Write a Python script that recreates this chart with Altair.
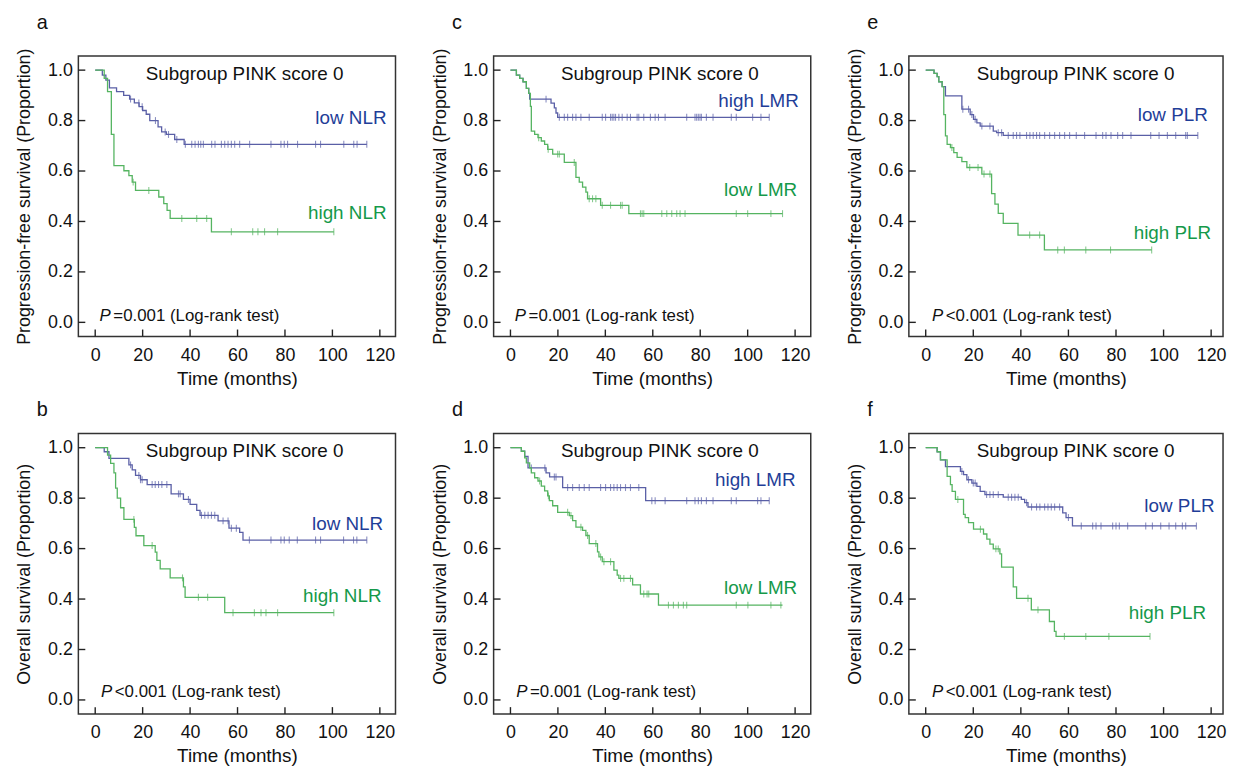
import bisect
import altair as alt
import pandas as pd

# ---------------- data ----------------
X_TICKS = [0, 20, 40, 60, 80, 100, 120]
Y_TICKS = [0.0, 0.2, 0.4, 0.6, 0.8, 1.0]

# Panel a : PFS, NLR
a_low_t = [3.0, 4.5, 6.0, 9.0, 12.0, 14.5, 16.5, 18.5, 20.0, 21.5, 23.0, 26.5, 28.0, 30.0, 33.5, 37.5]
a_low_s = [0.98, 0.96, 0.93, 0.915, 0.90, 0.885, 0.87, 0.855, 0.84, 0.825, 0.80, 0.775, 0.755, 0.745, 0.725, 0.706]
a_low_end = 114.5
a_low_c = [14.9, 18.4, 19.8, 25.4, 29.5, 30.9, 34.4, 38.0, 40.7, 42.1, 43.5, 44.5, 45.6, 49.1, 50.5, 53.2, 54.6,
           56.0, 57.4, 58.8, 60.9, 65.1, 74.1, 78.3, 79.7, 81.1, 85.3, 92.9, 95.0, 104.8, 109.0, 110.4, 114.5]
a_high_t = [3.8, 5.2, 6.8, 7.9, 12.1, 14.2, 15.6, 17.0, 26.8, 28.9, 30.3, 31.6, 49.0]
a_high_s = [0.967, 0.915, 0.745, 0.621, 0.601, 0.582, 0.556, 0.523, 0.497, 0.471, 0.444, 0.412, 0.359]
a_high_end = 100.6
a_high_c = [16.0, 22.6, 36.5, 42.8, 47.0, 57.4, 66.4, 68.6, 71.4, 76.9, 100.6]

# Panel b : OS, NLR
b_low_t = [3.8, 5.8, 14.2, 15.6, 17.0, 19.1, 21.9, 32.0, 37.2, 40.0, 42.8, 44.2, 51.8, 56.4, 60.9, 62.3]
b_low_s = [0.984, 0.958, 0.932, 0.912, 0.89, 0.873, 0.854, 0.817, 0.795, 0.775, 0.752, 0.732, 0.71, 0.681, 0.664, 0.634]
b_low_end = 114.5
b_low_c = [14.9, 18.4, 19.1, 19.8, 24.0, 25.3, 26.7, 28.1, 30.2, 35.1, 35.8, 39.3, 44.8, 46.2, 47.6, 49.0, 50.4,
           53.9, 56.0, 57.4, 59.5, 65.0, 74.1, 78.3, 79.7, 81.8, 85.2, 92.9, 95.0, 104.7, 108.9, 110.3, 114.5]
b_high_t = [5.2, 6.5, 7.9, 8.6, 9.3, 10.7, 12.1, 16.5, 17.2, 20.5, 25.3, 26.0, 27.4, 31.6, 37.2, 37.9, 54.6]
b_high_s = [0.971, 0.938, 0.90, 0.84, 0.80, 0.762, 0.716, 0.684, 0.651, 0.612, 0.586, 0.553, 0.52, 0.484, 0.448, 0.407, 0.346]
b_high_end = 100.6
b_high_c = [16.3, 24.0, 36.8, 43.5, 47.4, 58.1, 67.1, 69.9, 72.0, 76.9, 100.6]

# Panel c : PFS, LMR
c_high_t = [2.5, 3.9, 5.3, 6.7, 7.7, 8.1, 17.1, 18.5, 19.2, 19.9]
c_high_s = [0.98, 0.967, 0.954, 0.928, 0.908, 0.885, 0.869, 0.85, 0.83, 0.813]
c_high_end = 109.1
c_high_c = [15.0, 20.6, 22.7, 24.1, 26.2, 27.6, 29.7, 33.2, 38.7, 40.1, 42.2, 42.9, 43.6, 44.3, 45.7, 47.1, 49.2,
            50.6, 53.4, 54.1, 56.2, 59.0, 61.0, 62.4, 65.2, 74.3, 77.8, 78.5, 79.2, 79.9, 80.5, 82.6, 85.4, 93.1,
            95.2, 102.1, 105.6, 109.1]
c_low_t = [2.5, 3.9, 5.3, 6.7, 7.7, 8.4, 8.8, 10.2, 11.6, 13.0, 14.4, 15.7, 17.8, 22.7, 27.6, 29.0, 30.4, 31.8,
           32.5, 38.0, 49.9]
c_low_s = [0.98, 0.967, 0.954, 0.928, 0.908, 0.856, 0.758, 0.745, 0.732, 0.719, 0.706, 0.686, 0.667, 0.634, 0.575,
           0.556, 0.536, 0.516, 0.49, 0.464, 0.431]
c_low_end = 114.7
c_low_c = [11.9, 15.9, 19.9, 20.6, 26.9, 33.2, 34.6, 36.0, 38.7, 42.2, 46.4, 47.1, 54.8, 55.5, 56.2, 63.8, 65.9,
           68.0, 70.1, 71.5, 73.6, 95.2, 100.0, 109.8, 114.7]

# Panel d : OS, LMR
d_high_t = [4.6, 6.0, 7.4, 15.0, 16.5, 22.0, 57.0]
d_high_s = [0.986, 0.966, 0.92, 0.90, 0.884, 0.842, 0.79]
d_high_end = 109.1
d_high_c = [8.8, 14.5, 18.5, 19.2, 24.1, 26.2, 29.0, 31.1, 33.2, 38.0, 40.1, 42.2, 43.6, 45.0, 46.4, 48.5, 50.6,
            54.1, 59.6, 61.0, 65.2, 74.3, 77.8, 79.2, 80.5, 82.6, 85.4, 93.1, 95.2, 104.2, 105.6, 109.1]
d_low_t = [4.6, 6.0, 6.7, 8.1, 8.8, 10.2, 11.6, 13.0, 14.4, 15.7, 16.4, 17.8, 19.9, 24.8, 26.2, 27.6, 30.4, 31.8,
           33.2, 36.7, 37.3, 38.7, 43.6, 45.0, 45.7, 51.5, 54.8, 62.4]
d_low_s = [0.986, 0.96, 0.94, 0.92, 0.90, 0.881, 0.868, 0.848, 0.829, 0.809, 0.79, 0.77, 0.744, 0.731, 0.711,
           0.685, 0.672, 0.652, 0.62, 0.587, 0.567, 0.548, 0.515, 0.495, 0.482, 0.456, 0.42, 0.376]
d_low_end = 114.7
d_low_c = [12.3, 16.0, 24.1, 25.5, 29.7, 32.5, 36.0, 38.0, 39.4, 42.2, 46.4, 47.8, 50.6, 56.2, 57.6, 58.3, 66.6,
           68.7, 70.8, 72.9, 74.3, 95.2, 100.1, 109.8, 114.0]

# Panel e : PFS, PLR
e_low_t = [3.5, 4.8, 5.5, 6.9, 8.3, 15.2, 18.7, 20.1, 21.5, 22.9, 28.4, 29.8, 32.6]
e_low_s = [0.987, 0.974, 0.954, 0.935, 0.898, 0.845, 0.824, 0.805, 0.791, 0.778, 0.758, 0.752, 0.741]
e_low_end = 114.4
e_low_c = [15.6, 18.0, 19.4, 20.8, 23.6, 27.0, 30.5, 31.9, 34.7, 36.8, 38.2, 39.6, 42.4, 43.8, 45.2, 46.6, 47.9,
           50.0, 52.1, 54.2, 56.3, 58.4, 60.5, 63.3, 66.8, 71.6, 74.4, 75.8, 77.9, 80.7, 82.8, 86.3, 94.6, 98.1,
           101.6, 105.1, 109.3, 110.0, 114.4]
e_high_t = [3.5, 4.8, 5.5, 6.9, 7.6, 8.3, 9.0, 10.4, 11.8, 13.2, 15.2, 17.3, 23.6, 27.7, 29.1, 30.5, 32.6, 38.8, 49.9]
e_high_s = [0.987, 0.974, 0.954, 0.935, 0.824, 0.739, 0.706, 0.693, 0.673, 0.654, 0.637, 0.614, 0.588, 0.51,
            0.469, 0.432, 0.392, 0.346, 0.287]
e_high_end = 95.0
e_high_c = [11.0, 18.5, 22.0, 24.5, 27.0, 43.7, 47.9, 55.5, 58.3, 67.3, 77.7, 95.0]

# Panel f : OS, PLR
f_low_t = [4.8, 6.2, 8.3, 14.6, 15.9, 17.3, 19.4, 21.5, 22.9, 24.9, 32.6, 40.2, 41.6, 43.0, 57.6, 59.0, 61.7]
f_low_s = [0.984, 0.952, 0.925, 0.906, 0.893, 0.873, 0.86, 0.847, 0.827, 0.814, 0.804, 0.795, 0.782, 0.765,
           0.742, 0.723, 0.69]
f_low_end = 113.8
f_low_c = [15.2, 18.0, 20.0, 20.8, 25.6, 27.0, 28.4, 30.5, 34.7, 36.1, 37.5, 38.9, 42.4, 44.5, 46.6, 48.0, 50.0,
           51.4, 52.8, 54.2, 56.3, 60.0, 65.4, 70.2, 71.6, 73.7, 78.6, 80.0, 81.4, 84.9, 92.5, 95.3, 98.8, 102.3,
           105.1, 107.9, 109.3, 113.8]
f_high_t = [4.8, 6.2, 9.0, 10.4, 11.1, 12.5, 15.9, 16.6, 18.0, 20.1, 24.3, 25.7, 27.0, 28.4, 31.2, 31.9, 36.8,
            38.2, 44.4, 52.0, 54.1, 54.8]
f_high_s = [0.984, 0.952, 0.886, 0.854, 0.827, 0.795, 0.736, 0.723, 0.703, 0.677, 0.658, 0.638, 0.618, 0.599,
            0.579, 0.527, 0.448, 0.403, 0.357, 0.311, 0.272, 0.252]
f_high_end = 94.3
f_high_c = [13.5, 23.0, 29.5, 30.5, 43.0, 47.2, 58.3, 67.3, 77.0, 94.3]

# text annotations
SUBTITLE = "Subgroup PINK score 0"
P_EQ = "=0.001 (Log-rank test)"
P_LT = "<0.001 (Log-rank test)"
PFS_TITLE = "Progression-free survival (Proportion)"
OS_TITLE = "Overall survival (Proportion)"

# ---------------- styling ----------------
FONT = "Liberation Sans"
BLUE_LINE = "#5a5fa6"
GREEN_LINE = "#55b461"
BLUE_TXT = "#1f3e98"
GREEN_TXT = "#15994a"
INK = "#111111"
H = 283
Y_DOM = [-0.056, 1.056]


def km_frame(times, surv, end):
    t = [0.0] + list(times) + [end]
    s = [1.0] + list(surv) + [surv[-1]]
    return pd.DataFrame({"t": t, "s": s})


def censor_frame(times, surv, cens):
    ys = []
    for c in cens:
        i = bisect.bisect_right(times, c)
        ys.append(1.0 if i == 0 else surv[i - 1])
    return pd.DataFrame({"t": cens, "s": ys})


def make_panel(letter, ytitle, curves, ptext, p_at, width, xdom, toff):
    X = alt.X("t:Q", scale=alt.Scale(domain=xdom, nice=False, zero=False),
              axis=alt.Axis(values=X_TICKS, title="Time (months)", labelPadding=10, titlePadding=5,
                            titleFontSize=19, labelFlush=False, format="d"))
    Y = alt.Y("s:Q", scale=alt.Scale(domain=Y_DOM, nice=False, zero=False),
              axis=alt.Axis(values=Y_TICKS, title=ytitle, format=".1f", labelPadding=6, titlePadding=14,
                            titleFontSize=18, labelFlush=False))
    layers = []
    # inner tick marks
    layers.append(alt.Chart(pd.DataFrame({"s": Y_TICKS})).mark_rule(color="#222", strokeWidth=1.4)
                  .encode(y=Y, x=alt.value(0), x2=alt.value(7)))
    layers.append(alt.Chart(pd.DataFrame({"t": X_TICKS})).mark_rule(color="#222", strokeWidth=1.4)
                  .encode(x=X, y=alt.value(H), y2=alt.value(H - 7)))
    for cv in curves:
        layers.append(alt.Chart(km_frame(cv["t"], cv["s"], cv["end"]))
                      .mark_line(interpolate="step-after", color=cv["line"], strokeWidth=1.3)
                      .encode(x=X, y=Y))
        layers.append(alt.Chart(censor_frame(cv["t"], cv["s"], cv["c"]))
                      .mark_tick(orient="vertical", color=cv["line"], size=7, thickness=1.1)
                      .encode(x=X, y=Y))
        layers.append(alt.Chart(pd.DataFrame({"t": [cv["lx"]], "s": [cv["ly"]], "txt": [cv["label"]]}))
                      .mark_text(align="right", baseline="middle", font=FONT, fontSize=19, color=cv["txt"])
                      .encode(x=X, y=Y, text="txt:N"))
    layers.append(alt.Chart(pd.DataFrame({"t": [63.0], "s": [0.985], "txt": [SUBTITLE]}))
                  .mark_text(align="center", baseline="middle", font=FONT, fontSize=19, color=INK)
                  .encode(x=X, y=Y, text="txt:N"))
    pdf = pd.DataFrame({"t": [p_at[0]], "s": [p_at[1]], "p": ["P"], "rest": [ptext]})
    layers.append(alt.Chart(pdf).mark_text(align="left", baseline="middle", font=FONT, fontSize=17,
                                           fontStyle="italic", color=INK)
                  .encode(x=X, y=Y, text="p:N"))
    layers.append(alt.Chart(pdf).mark_text(align="left", baseline="middle", font=FONT, fontSize=17,
                                           dx=14, color=INK)
                  .encode(x=X, y=Y, text="rest:N"))
    return alt.layer(*layers).properties(
        width=width, height=H,
        title=alt.TitleParams(letter, anchor="start", frame="group", dx=-42, offset=toff,
                              fontSize=20, fontWeight="normal", font=FONT, color=INK))


def curve(t, s, end, c, label, lx, ly, blue):
    return {"t": t, "s": s, "end": end, "c": c, "label": label, "lx": lx, "ly": ly,
            "line": BLUE_LINE if blue else GREEN_LINE, "txt": BLUE_TXT if blue else GREEN_TXT}


XD_W = [-7.1, 126.6]
XD_N = [-7.08, 125.0]

pa = make_panel("a", PFS_TITLE, [
    curve(a_low_t, a_low_s, a_low_end, a_low_c, "low NLR", 122.8, 0.809, True),
    curve(a_high_t, a_high_s, a_high_end, a_high_c, "high NLR", 122.8, 0.433, False)],
    P_EQ, (1.8, 0.026), 320, XD_W, 15)
pc = make_panel("c", PFS_TITLE, [
    curve(c_high_t, c_high_s, c_high_end, c_high_c, "high LMR", 121.6, 0.876, True),
    curve(c_low_t, c_low_s, c_low_end, c_low_c, "low LMR", 120.9, 0.523, False)],
    P_EQ, (1.8, 0.026), 320, XD_W, 15)
pe = make_panel("e", PFS_TITLE, [
    curve(e_low_t, e_low_s, e_low_end, e_low_c, "low PLR", 118.6, 0.823, True),
    curve(e_high_t, e_high_s, e_high_end, e_high_c, "high PLR", 120.0, 0.353, False)],
    P_LT, (2.6, 0.026), 317, XD_N, 15)
pb = make_panel("b", OS_TITLE, [
    curve(b_low_t, b_low_s, b_low_end, b_low_c, "low NLR", 121.4, 0.697, True),
    curve(b_high_t, b_high_s, b_high_end, b_high_c, "high NLR", 120.7, 0.413, False)],
    P_LT, (2.4, 0.03), 320, XD_W, 14)
pd_ = make_panel("d", OS_TITLE, [
    curve(d_high_t, d_high_s, d_high_end, d_high_c, "high LMR", 120.2, 0.873, True),
    curve(d_low_t, d_low_s, d_low_end, d_low_c, "low LMR", 120.9, 0.442, False)],
    P_EQ, (2.4, 0.03), 320, XD_W, 14)
pf = make_panel("f", OS_TITLE, [
    curve(f_low_t, f_low_s, f_low_end, f_low_c, "low PLR", 121.4, 0.769, True),
    curve(f_high_t, f_high_s, f_high_end, f_high_c, "high PLR", 117.9, 0.344, False)],
    P_LT, (2.6, 0.03), 317, XD_N, 14)

row1 = alt.hconcat(pa, pc, pe, spacing=34)
row2 = alt.hconcat(pb, pd_, pf, spacing=34)

chart = (alt.vconcat(row1, row2, spacing=10)
         .properties(padding={"left": 7, "top": 1, "right": 0, "bottom": 0}, background="white")
         .configure_view(stroke="#333333", strokeWidth=1.5)
         .configure_axis(labelFont=FONT, titleFont=FONT, labelFontSize=18, labelColor=INK, titleColor=INK,
                         titleFontWeight="normal", grid=False, domain=False, ticks=False, tickSize=0))

chart.save("out.html", embed_options={"renderer": "svg", "actions": False})
